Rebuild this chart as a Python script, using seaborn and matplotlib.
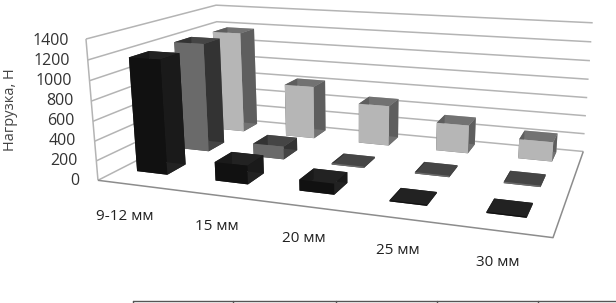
import numpy as np
import matplotlib
matplotlib.use("Agg")
import matplotlib.pyplot as plt
from matplotlib.lines import Line2D
from mpl_toolkits.mplot3d.art3d import Line3DCollection
import seaborn as sns

# --- data ---
categories = ["9-12 мм", "15 мм", "20 мм", "25 мм", "30 мм"]
yticks = [0, 200, 400, 600, 800, 1000, 1200, 1400]
series_front = [1170, 190, 110, 12, 12]
series_mid = [1180, 140, 15, 15, 15]
series_back = [1160, 600, 450, 310, 210]

sns.set_theme(style="white")
plt.rcParams['font.family'] = ['Open Sans', 'DejaVu Sans']

W, H = 616, 303
fig = plt.figure(figsize=(W / 100, H / 100), dpi=100)
ax = fig.add_axes([0, 0, 1, 1], projection='3d', computed_zorder=False)
ax.apply_aspect = lambda position=None: None
ax.set_axis_off()

# --- perspective: box corners -> picture pixels ---
nx, ny, zmax = 5, 3, 1400
corners = [
    ((0, 0, 0), (97, 180)), ((nx, 0, 0), (553, 238)),
    ((nx, ny, 0), (583, 151)), ((0, ny, 0), (222, 118)),
    ((0, 0, zmax), (87, 39)), ((0, ny, zmax), (215, 5)),
    ((nx, ny, zmax), (593, 23)),
]
rows = []
for (X, Y, Z), (u, v) in corners:
    p = [X, Y, Z / 1000, 1]
    rows.append(p + [0, 0, 0, 0] + [-u * c for c in p])
    rows.append([0, 0, 0, 0] + p + [-v * c for c in p])
P = np.linalg.svd(np.array(rows, float))[2][-1].reshape(3, 4)
if P[2, 3] < 0:
    P = -P
P[:, 2] /= 1000
M = np.array([P[0], P[1], [0, 1, 0, 0], P[2]])
ax.get_proj = lambda: M

# --- walls and floor ---
wall_segs = []
for z in yticks:
    wall_segs.append([(0, 0, z), (0, ny, z), (nx, ny, z)])
wall_segs.append([(0, 0, 0), (0, 0, zmax)])
ax.add_collection3d(Line3DCollection(wall_segs, colors='#b4b4b4', linewidths=1.1, zorder=1), autolim=False)
ax.add_collection3d(Line3DCollection([[(0, 0, 0), (nx, 0, 0), (nx, ny, 0)]],
                                     colors='#8c8c8c', linewidths=1.1, zorder=2), autolim=False)

# --- bars, back row first ---
shades = {
    2: dict(front='#b6b6b6', side='#5e5e5e', top='#727272'),
    1: dict(front='#6a6a6a', side='#333333', top='#454545'),
    0: dict(front='#111111', side='#1a1a1a', top='#222222'),
}
rows_data = {0: series_front, 1: series_mid, 2: series_back}
bar_w, bar_d = 0.4, 0.42
order = 2
for row in [2, 1, 0]:
    s = shades[row]
    face = [s['top'], s['top'], s['front'], s['front'], s['side'], s['side']]
    for i in range(nx):
        order += 1
        ax.bar3d(i * 1.015 - 0.07 + (1 - bar_w) / 2, row + 0.15 + (1 - bar_d) / 2, 0, bar_w, bar_d,
                 rows_data[row][i], color=face, shade=False, zorder=order,
                 edgecolor='none', linewidth=0)

ax.viewLim.set_points(np.array([[0, H], [W, 0]], float))

# --- text ---
for i, z in enumerate(yticks):
    fig.text((79 - 10 * i / 7) / W, 1 - (181 - 20 * i) / H, str(z), ha='right', va='center',
             fontsize=11.5, color='#333333')
label_xy = [(125, 217), (217, 226), (304, 238), (398, 250), (498, 263)]
for (lx, ly), c in zip(label_xy, categories):
    fig.text(lx / W, 1 - ly / H, c, ha='center', va='center', fontsize=11, color='#222222')

fig.text(11 / W, 1 - 110 / H, "Нагрузка, Н", rotation=90, ha='center', va='center',
         fontsize=10.5, color='#444444')

# --- cut off table edge at the bottom ---
line_kw = dict(color='#555555', lw=1, transform=None)
fig.add_artist(Line2D([133, W], [H - 301, H - 301], **line_kw))
for x in [133, 233, 336, 437, 538]:
    fig.add_artist(Line2D([x, x], [H - 301, 0], **line_kw))

fig.savefig("out.png", dpi=100)
